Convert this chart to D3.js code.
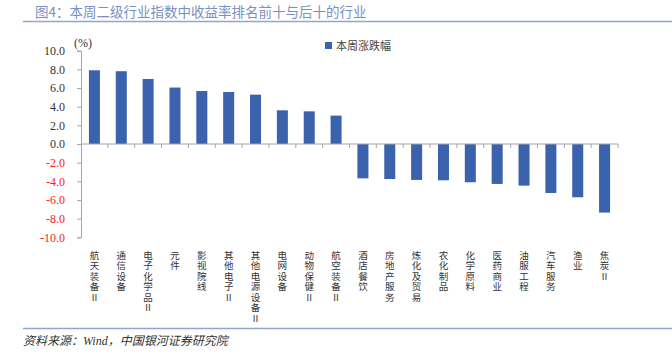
<!DOCTYPE html>
<html>
<head>
<meta charset="utf-8">
<script src="https://cdn.jsdelivr.net/npm/d3@7"></script>
<style>
  body { margin: 0; background: #fff; }
  svg { display: block; }
</style>
</head>
<body>
<div id="chart"></div>
<script>
const width = 672;
const height = 354;

// 行业及本周涨跌幅 (%)
const industries = ["航天装备Ⅱ", "通信设备", "电子化学品Ⅱ", "元件", "影视院线", "其他电子Ⅱ",
  "其他电源设备Ⅱ", "电网设备", "动物保健Ⅱ", "航空装备Ⅱ", "酒店餐饮", "房地产服务",
  "炼化及贸易", "农化制品", "化学原料", "医药商业", "油服工程", "汽车服务", "渔业", "焦炭Ⅱ"];
const weeklyChange = [7.9, 7.8, 6.97, 6.05, 5.68, 5.57, 5.29, 3.61, 3.5, 3.04,
  -3.68, -3.75, -3.85, -3.89, -4.1, -4.28, -4.46, -5.25, -5.71, -7.35];
const yTicks = [10, 8, 6, 4, 2, 0, -2, -4, -6, -8, -10];

const cjk = "'Noto Sans CJK SC', sans-serif";
const serif = "'Liberation Serif', 'DejaVu Serif', serif";

const svg = d3.select("#chart").append("svg")
    .attr("width", width)
    .attr("height", height);

// title + rules
svg.append("text")
    .attr("x", 35).attr("y", 17)
    .style("font-family", cjk)
    .style("font-size", "13.5px")
    .style("fill", "#7a8fc2")
    .text("图4：本周二级行业指数中收益率排名前十与后十的行业");

svg.append("line")
    .attr("x1", 23).attr("x2", width).attr("y1", 21.5).attr("y2", 21.5)
    .style("stroke", "#8fa6d2").style("stroke-width", 1.5);

svg.append("line")
    .attr("x1", 23).attr("x2", width).attr("y1", 328.5).attr("y2", 328.5)
    .style("stroke", "#8fa6d2").style("stroke-width", 1.5);

svg.append("text")
    .attr("x", 23).attr("y", 345)
    .style("font-family", "'Liberation Serif', " + cjk)
    .style("font-style", "italic")
    .style("font-size", "12px")
    .style("fill", "#333")
    .text("资料来源：Wind，中国银河证券研究院");

// scales
const x = d3.scaleBand()
    .domain(industries)
    .range([81, 618])
    .paddingInner(0.59)
    .paddingOuter(0.295);

const y = d3.scaleLinear()
    .domain([-10, 10])
    .range([237.3, 50.7]);

const axisColor = "#a6a6a6";

// bars
svg.selectAll("rect.bar")
    .data(weeklyChange)
    .enter()
    .append("rect")
    .attr("class", "bar")
    .attr("x", (d, i) => x(industries[i]))
    .attr("width", x.bandwidth())
    .attr("y", d => y(Math.max(0, d)))
    .attr("height", d => Math.abs(y(d) - y(0)))
    .style("fill", "#3a62ad");

// y axis
const yAxis = svg.append("g")
    .attr("transform", "translate(81,0)")
    .call(d3.axisLeft(y).tickValues(yTicks).tickSize(4).tickPadding(12)
      .tickFormat(d => d.toFixed(1)));
yAxis.select(".domain").style("stroke", axisColor);
yAxis.selectAll(".tick line").style("stroke", axisColor);
yAxis.selectAll(".tick text")
    .style("font-family", serif)
    .style("font-size", "12px")
    .style("fill", d => d < 0 ? "#ff2020" : "#333");

svg.append("text")
    .attr("x", 74).attr("y", 47)
    .style("font-family", serif)
    .style("font-size", "12px")
    .style("fill", "#333")
    .text("(%)");

// x axis at zero, ticks at band boundaries
const step = x.step();
const boundaries = d3.range(industries.length + 1).map(i => 81 + i * step);
svg.append("line")
    .attr("x1", 81).attr("x2", 618)
    .attr("y1", y(0)).attr("y2", y(0))
    .style("stroke", axisColor);
svg.selectAll("line.xtick")
    .data(boundaries.slice(1))
    .enter()
    .append("line")
    .attr("class", "xtick")
    .attr("x1", d => d).attr("x2", d => d)
    .attr("y1", y(0)).attr("y2", y(0) + 4)
    .style("stroke", axisColor);

// vertical category labels, one character per line
const labels = svg.selectAll("text.cat")
    .data(industries)
    .enter()
    .append("text")
    .attr("class", "cat")
    .attr("text-anchor", "middle")
    .style("font-family", cjk)
    .style("font-size", "9.5px")
    .style("fill", "#333");
labels.each(function(name) {
    const cx = x(name) + x.bandwidth() / 2;
    d3.select(this).selectAll("tspan")
        .data(Array.from(name))
        .enter()
        .append("tspan")
        .attr("x", cx)
        .attr("y", (c, j) => 258.5 + j * 10.5)
        .text(c => c);
});

// legend
svg.append("rect")
    .attr("x", 325).attr("y", 42)
    .attr("width", 7).attr("height", 7)
    .style("fill", "#3a62ad");
svg.append("text")
    .attr("x", 336).attr("y", 49.5)
    .style("font-family", cjk)
    .style("font-size", "11px")
    .style("fill", "#444")
    .text("本周涨跌幅");
</script>
</body>
</html>
